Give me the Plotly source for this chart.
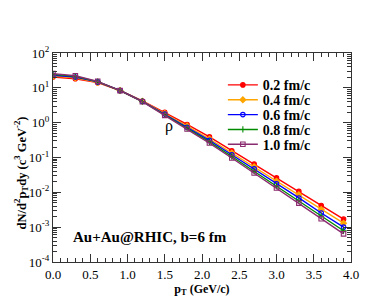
import plotly.graph_objects as go

pT = [0.0, 0.3, 0.6, 0.9, 1.2, 1.5, 1.8, 2.1, 2.4, 2.7, 3.0, 3.3, 3.6, 3.9]
tau_labels = ["0.2 fm/c", "0.4 fm/c", "0.6 fm/c", "0.8 fm/c", "1.0 fm/c"]
y_02 = [20.5, 18.3, 14.1, 8.4, 4.2, 1.98, 0.89, 0.39, 0.157, 0.065, 0.026, 0.0107, 0.0042, 0.0017]
y_04 = [21.8, 19.5, 14.5, 8.4, 4.15, 1.85, 0.80, 0.34, 0.135, 0.054, 0.021, 0.0085, 0.0032, 0.0013]
y_06 = [23.0, 20.5, 14.8, 8.4, 4.1, 1.76, 0.74, 0.31, 0.120, 0.047, 0.0177, 0.0069, 0.00255, 0.00100]
y_08 = [24.3, 21.4, 15.1, 8.35, 4.05, 1.68, 0.70, 0.28, 0.107, 0.040, 0.0152, 0.0058, 0.0021, 0.00079]
y_10 = [25.5, 22.3, 15.4, 8.3, 4.0, 1.62, 0.66, 0.26, 0.097, 0.036, 0.0133, 0.0049, 0.00175, 0.00064]
series = [y_02, y_04, y_06, y_08, y_10]

colors = ["#ff0000", "#ffa500", "#0000ff", "#008a00", "#8a2b6f"]
symbols = ["circle", "diamond", "circle-open", "cross-thin-open", "square-open"]

ytick_vals = [1e-4, 1e-3, 1e-2, 1e-1, 1, 10, 100]
ytick_text = ["10<sup>-4</sup>", "10<sup>-3</sup>", "10<sup>-2</sup>", "10<sup>-1</sup>",
              "10<sup>0</sup>", "10<sup>1</sup>", "10<sup>2</sup>"]
xtick_vals = [0.0, 0.5, 1.0, 1.5, 2.0, 2.5, 3.0, 3.5, 4.0]
xtick_text = ["0.0", "0.5", "1.0", "1.5", "2.0", "2.5", "3.0", "3.5", "4.0"]

serif = "Liberation Serif"
legend_names = ["legend", "legend2", "legend3", "legend4", "legend5"]

fig = go.Figure()
for ys, lab, c, s, lg in zip(series, tau_labels, colors, symbols, legend_names):
    fig.add_trace(go.Scatter(
        x=pT, y=ys, mode="lines+markers", name="<b>" + lab + "</b>", legend=lg,
        line=dict(color=c, width=1.4),
        marker=dict(color=c, symbol=s, size=4.5, line=dict(color=c, width=1.1)),
    ))

minor_y = [m * 10 ** k for k in range(-4, 2) for m in range(2, 10)]

legend_layout = {}
for i, lg in enumerate(legend_names):
    yc = 77.3 + 14.85 * i
    legend_layout[lg] = dict(x=0.57, y=(254 - yc) / 209, xanchor="left", yanchor="middle",
                             bgcolor="rgba(0,0,0,0)", font=dict(family=serif, size=14, color="black"),
                             itemwidth=30)

fig.update_layout(
    width=387, height=299,
    margin=dict(l=45, r=44, t=45, b=45),
    paper_bgcolor="white", plot_bgcolor="white",
    font=dict(family=serif, color="black", size=12),
    showlegend=True,
    xaxis=dict(range=[0, 4], tickmode="array", tickvals=xtick_vals, ticktext=xtick_text,
               automargin=False,
               ticks="inside", ticklen=8, tickwidth=1, tickcolor="#333",
               showline=True, linecolor="#333", linewidth=1, mirror="ticks",
               showgrid=False, zeroline=False,
               minor=dict(dtick=0.1, ticks="inside", ticklen=4, tickcolor="#333", showgrid=False),
               tickfont=dict(family=serif, size=13, color="black"),
               title=dict(text="<b>p<sub>T</sub> (GeV/c)</b>",
                          font=dict(family=serif, size=12, color="black"), standoff=0)),
    yaxis=dict(type="log", range=[-4, 2], tickmode="array", tickvals=ytick_vals, ticktext=ytick_text,
               automargin=False,
               ticks="inside", ticklen=8, tickwidth=1, tickcolor="#333",
               showline=True, linecolor="#333", linewidth=1, mirror="ticks",
               showgrid=False, zeroline=False,
               minor=dict(tickmode="array", tickvals=minor_y, ticks="inside", ticklen=4,
                          tickcolor="#333", showgrid=False),
               tickfont=dict(family=serif, size=13, color="black")),
    annotations=[
        dict(x=-0.106, y=0.426, xref="paper", yref="paper",
             text="<b>dN/d<sup>2</sup>p<sub>T</sub>dy (c<sup>3</sup> GeV<sup>-2</sup>)</b>",
             textangle=-90, showarrow=False, xanchor="center", yanchor="middle",
             font=dict(family=serif, size=12.5, color="black")),
        dict(x=1.56, y=-0.1, xref="x", yref="y", text="ρ", showarrow=False,
             font=dict(family=serif, size=16, color="black")),
        dict(x=0.062, y=0.118, xref="paper", yref="paper", text="<b>Au+Au@RHIC, b=6 fm</b>",
             showarrow=False, xanchor="left", yanchor="middle",
             font=dict(family=serif, size=15, color="black")),
    ],
    **legend_layout,
)

fig.write_html("out.html")
